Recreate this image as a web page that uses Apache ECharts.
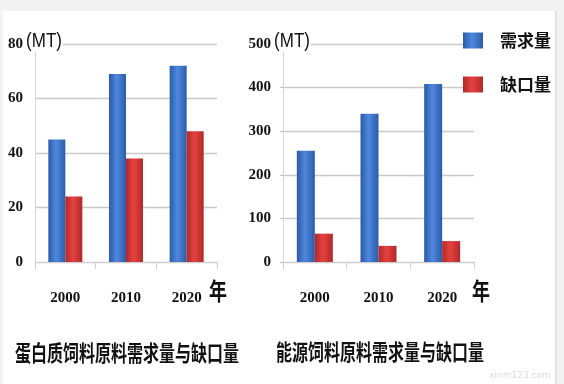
<!DOCTYPE html>
<html><head><meta charset="utf-8">
<script src="https://cdn.jsdelivr.net/npm/echarts@6/dist/echarts.min.js"></script>
<style>html,body{margin:0;padding:0;background:#fff}#c{width:564px;height:384px}</style>
</head><body><div id="c"></div>
<script>
var categories = ['2000', '2010', '2020'];
var seriesNames = ['需求量', '缺口量'];
var proteinDemand = [45, 69, 72];
var proteinGap = [24, 38, 48];
var energyDemand = [255, 340, 408];
var energyGap = [65, 37, 48];
var proteinTicks = {min: 0, max: 80, interval: 20};
var energyTicks = {min: 0, max: 500, interval: 100};
var titleLeft = '蛋白质饲料原料需求量与缺口量';
var titleRight = '能源饲料原料需求量与缺口量';
var unitLabel = '(MT)';
var xName = '年';

var blue = {type:'linear',x:0,y:0,x2:1,y2:0,colorStops:[{offset:0,color:'#2b5aa8'},{offset:0.45,color:'#4f88dc'},{offset:1,color:'#2c5cab'}]};
var red = {type:'linear',x:0,y:0,x2:1,y2:0,colorStops:[{offset:0,color:'#b0282a'},{offset:0.45,color:'#e4433f'},{offset:1,color:'#b2292a'}]};

var chart = echarts.init(document.getElementById('c'));
function xAxis(gi){
  return {type:'category', gridIndex:gi, data:categories,
    axisLine:{lineStyle:{color:'#cfcfcf'}},
    axisTick:{show:true, length:7, lineStyle:{color:'#cfcfcf'}},
    axisLabel:{margin:29, fontFamily:'Liberation Serif', fontWeight:'bold', fontSize:15, color:'#111'}};
}
function yAxis(gi, t){
  return {type:'value', gridIndex:gi, min:t.min, max:t.max, interval:t.interval,
    axisLine:{show:true, lineStyle:{color:'#d6d6d6'}},
    axisTick:{show:gi===1, length:3, lineStyle:{color:'#bbb'}},
    splitLine:{lineStyle:{color:'#c9c9c9', width:1.3}},
    axisLabel:{margin:12, fontFamily:'Liberation Serif', fontWeight:'bold', fontSize:15, color:'#111'}};
}
function bar(name, gi, data, color){
  return {name:name, type:'bar', xAxisIndex:gi, yAxisIndex:gi, data:data, barWidth:gi===0?17:18, barGap:'0%',
    itemStyle:{color:color}, animation:false};
}
function txt(x, y, s, size, sy, family, bg){
  var st = {text:s, x:0, y:0, fontSize:size, fontFamily:family||'Noto Sans CJK SC', fontWeight:family?'normal':'bold', fill:'#111', align:'center', verticalAlign:'middle'};
  if (bg) { st.backgroundColor = bg; st.padding = [0,1,0,1]; }
  return {type:'text', x:x, y:y, scaleY:sy, z:100, style:st};
}
chart.setOption({
  backgroundColor:'#fff',
  animation:false,
  grid:[{left:35, right:347, top:44, bottom:122},{left:283, right:90, top:44, bottom:122}],
  xAxis:[xAxis(0), xAxis(1)],
  yAxis:[yAxis(0, proteinTicks), yAxis(1, energyTicks)],
  legend:{orient:'vertical', left:463, top:32, padding:0, itemWidth:20, itemHeight:16, itemGap:27,
    data:seriesNames, icon:'rect',
    textStyle:{fontFamily:'Noto Sans CJK SC', fontWeight:'bold', fontSize:17, color:'#111', padding:[0,0,0,12]}},
  series:[bar(seriesNames[0],0,proteinDemand,blue), bar(seriesNames[1],0,proteinGap,red),
          bar(seriesNames[0],1,energyDemand,blue), bar(seriesNames[1],1,energyGap,red)],
  graphic:[
    {type:'rect', shape:{x:0,y:0,width:564,height:11}, style:{fill:'#f3f3f3'}},
    {type:'rect', shape:{x:0,y:0,width:3,height:384}, style:{fill:'#f3f3f3'}},
    {type:'rect', shape:{x:556,y:0,width:8,height:384}, style:{fill:'#f3f3f3'}},
    {type:'rect', shape:{x:555,y:11,width:1.5,height:373}, style:{fill:'#dcdcdc'}},
    txt(44, 41, unitLabel, 17, 1.2, 'Liberation Sans', '#fff'),
    txt(292, 41, unitLabel, 17, 1.2, 'Liberation Sans', '#fff'),
    txt(218, 291, xName, 18, 1.3),
    txt(481, 291, xName, 18, 1.3),
    txt(127, 353, titleLeft, 16, 1.35),
    txt(380, 352, titleRight, 16, 1.35),
    {type:'text', x:520, y:376, style:{text:'xinm123.com', fontSize:9, fontFamily:'DejaVu Sans', fill:'#dcdcdc', align:'center', verticalAlign:'middle'}}
  ]
});
</script></body></html>
